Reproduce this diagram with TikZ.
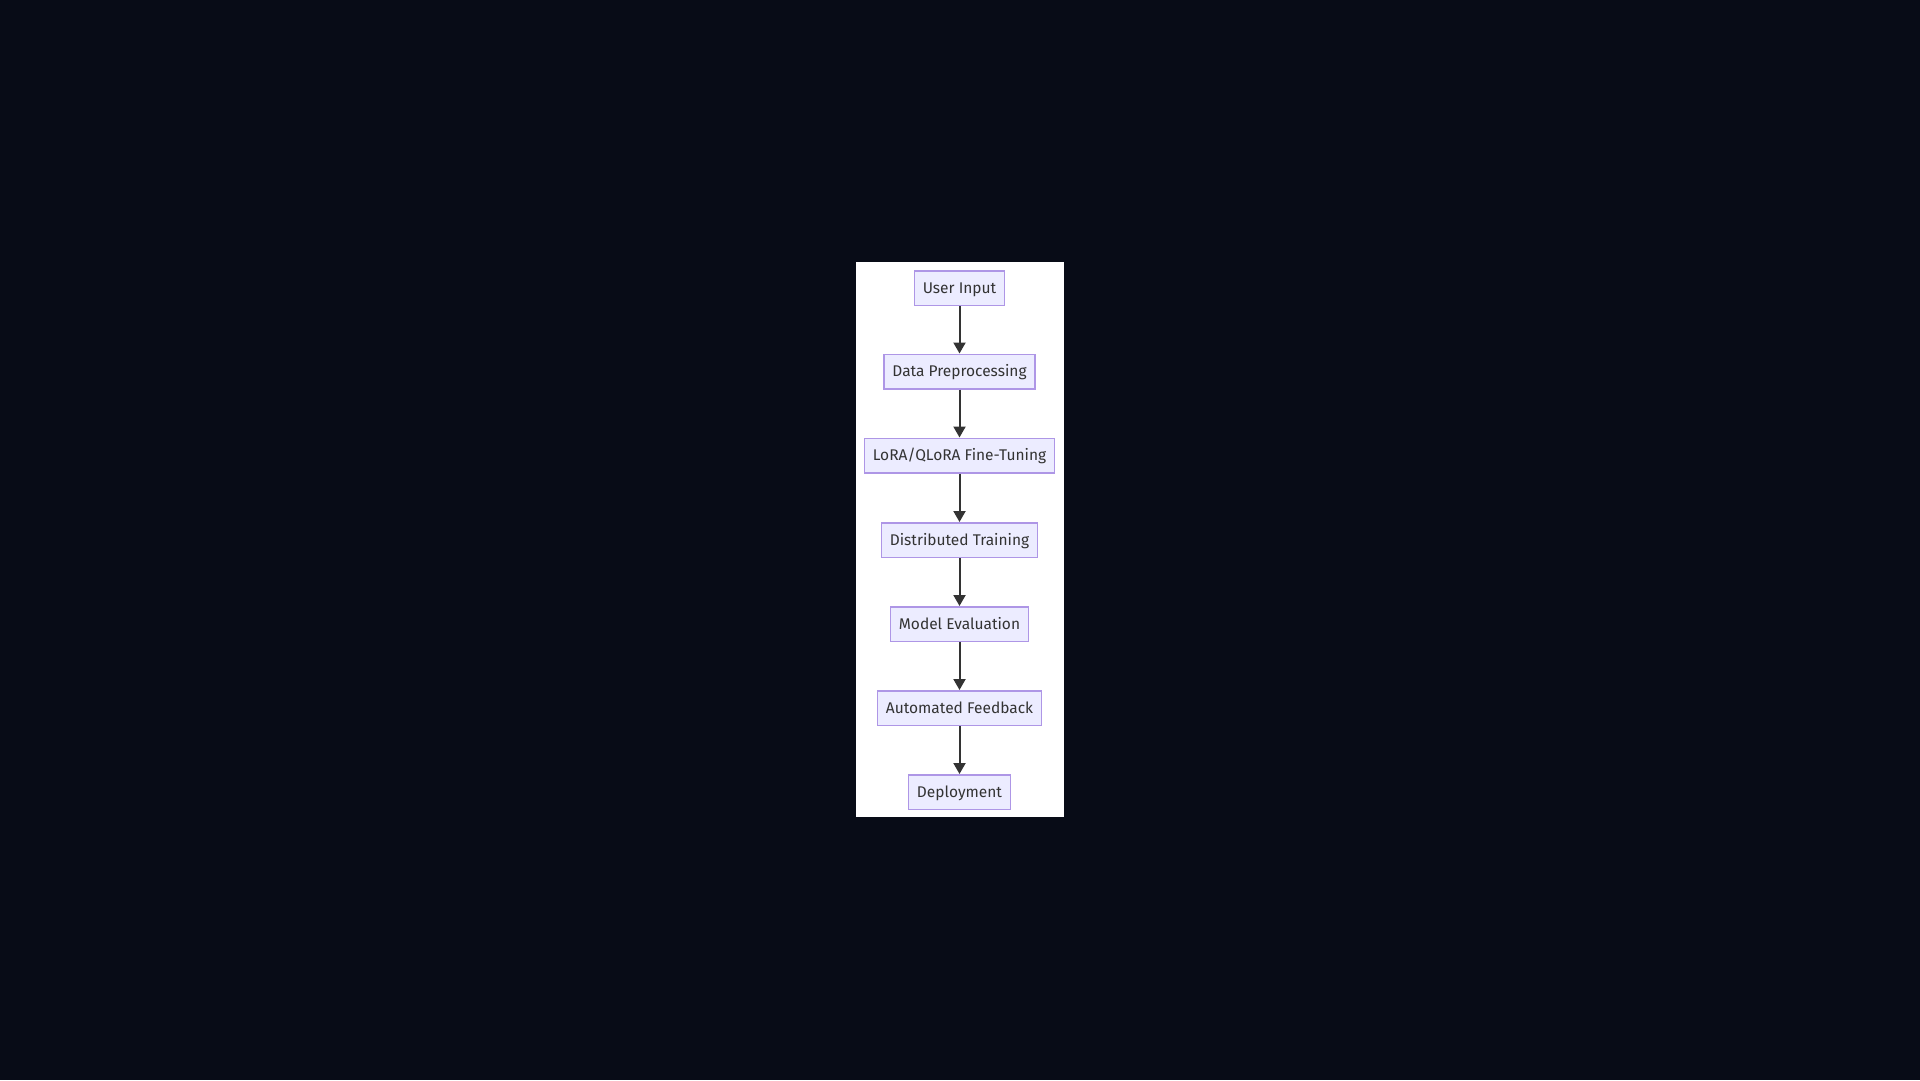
\documentclass[tikz,border=0pt]{standalone}
\usepackage{fontspec}
\setmainfont{Fira Sans}
\usetikzlibrary{arrows.meta}
\definecolor{bgdark}{HTML}{080C17}
\definecolor{boxfill}{HTML}{ECECFF}
\definecolor{boxline}{HTML}{AE96E6}
\definecolor{ink}{HTML}{333333}
\tikzset{
  flowbox/.style={draw=boxline, fill=boxfill, line width=1.5pt, minimum height=34.5pt,
    inner xsep=8.5pt, inner ysep=0pt, text=ink, font=\fontsize{15.5}{18}\selectfont,
    text height=11pt, text depth=1pt},
  flowarrow/.style={draw=ink, line width=2pt, -{Triangle[width=12pt,length=11pt]}}
}
\begin{document}
\begin{tikzpicture}[x=1pt,y=-1pt]
\fill[bgdark] (0,0) rectangle (1920,1080);
\useasboundingbox (0,0) rectangle (1920,1080);
\fill[white] (856,262) rectangle (1064,817);
\node[flowbox] (n1) at (959.5,288) {User Input};
\node[flowbox] (n2) at (959.5,371.5) {Data Preprocessing};
\node[flowbox] (n3) at (959.5,455.5) {LoRA/QLoRA Fine-Tuning};
\node[flowbox] (n4) at (959.5,540) {Distributed Training};
\node[flowbox] (n5) at (959.5,624) {Model Evaluation};
\node[flowbox] (n6) at (959.5,708) {Automated Feedback};
\node[flowbox] (n7) at (959.5,792) {Deployment};
\foreach \a/\b in {n1/n2,n2/n3,n3/n4,n4/n5,n5/n6,n6/n7}
  \draw[flowarrow] (\a.south) -- (\b.north);
\end{tikzpicture}
\end{document}
